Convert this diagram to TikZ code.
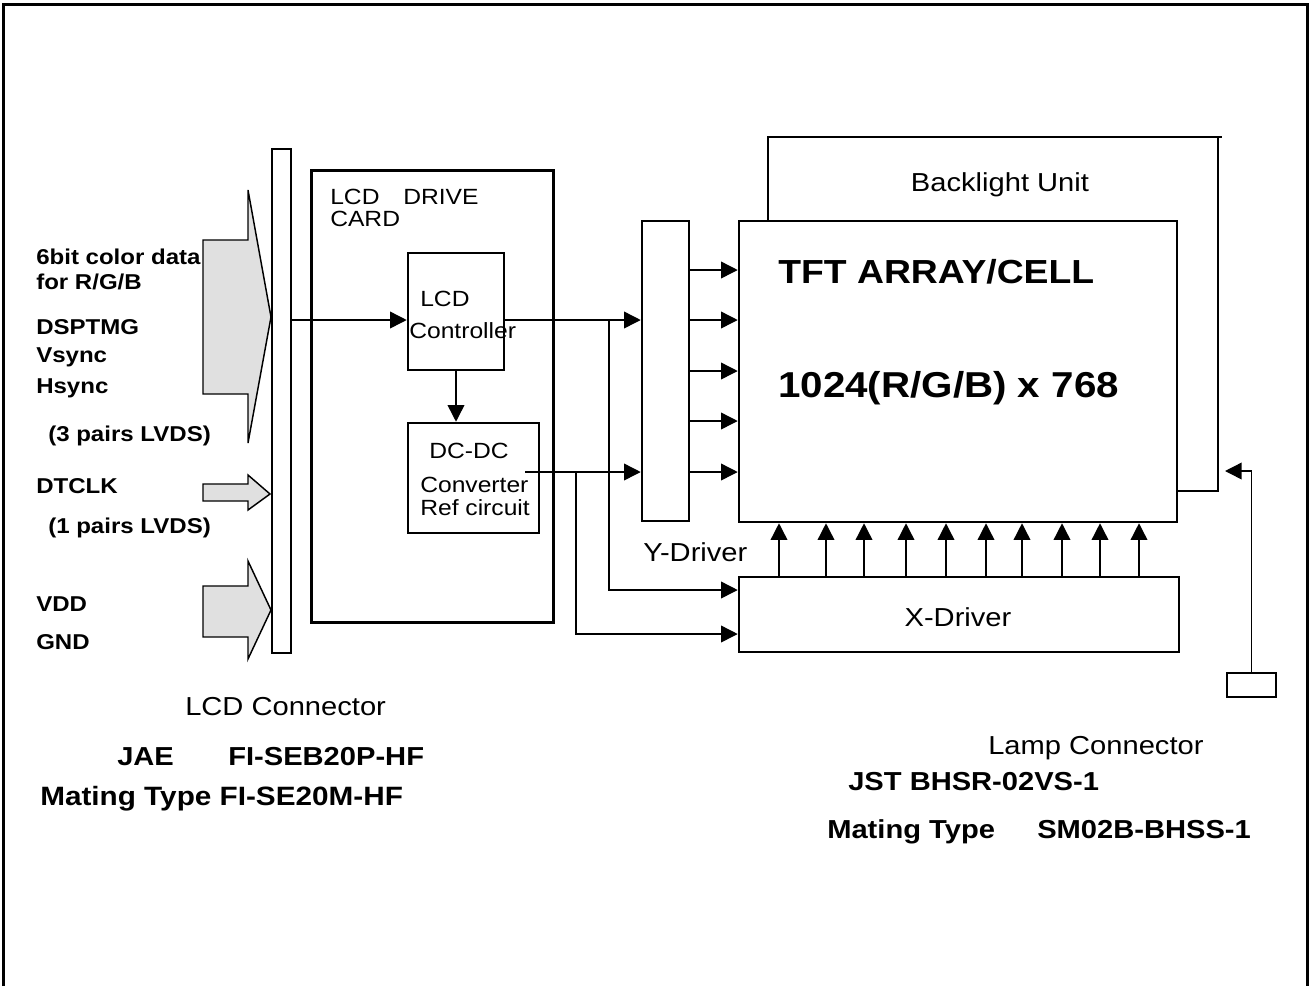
\documentclass[tikz,border=0pt]{standalone}
\usepackage{fontspec}
\setmainfont{Liberation Sans}[FakeStretch=1.12]
\usetikzlibrary{arrows.meta, positioning, fit}
\definecolor{arrowgray}{RGB}{224,224,224}
\tikzset{box/.style={draw,line width=1.9pt,inner sep=0pt},thinbox/.style={draw,line width=1.1pt,inner sep=0pt},line/.style={-{Triangle[length=12.5pt,width=12.5pt]},line width=1.1pt},wire/.style={line width=1.1pt},fatarrow/.style={draw,line width=1.1pt,fill=arrowgray,line join=miter},txt/.style={inner sep=0pt,anchor=west,text height=.72em,text depth=0pt},sig/.style={txt,font=\bfseries\fontsize{16.1}{20}\selectfont},small/.style={txt,font=\fontsize{16.5}{20}\selectfont},lab/.style={txt,font=\fontsize{19.5}{23}\selectfont},part/.style={txt,font=\bfseries\fontsize{19.5}{23}\selectfont}}

\begin{document}
\begin{tikzpicture}[x=0.75pt,y=-0.75pt]
\useasboundingbox (0,0) rectangle (1313,986);
\draw[line width=2.25pt] (3,986) -- (3,4) -- (1307,4) -- (1307,986);

% input arrows and connector
\draw[fatarrow] (203,240) -- (248,240) -- (248,190) -- (271,317) -- (248,443) -- (248,394) -- (203,394) -- cycle;
\draw[fatarrow] (203,484) -- (248,484) -- (248,475) -- (270,494) -- (248,510) -- (248,501) -- (203,501) -- cycle;
\draw[fatarrow] (203,586) -- (248,586) -- (248,561) -- (271,610) -- (248,659) -- (248,637) -- (203,637) -- cycle;
\node[thinbox,fit={(272,149) (291,653)}] (conn) {};

\node[sig] (rgb1) at (36,260) {6bit color data};
\node[sig] (rgb2) at (36,285) {for R/G/B};
\node[sig] (dsp) at (36,330) {DSPTMG};
\node[sig] (vs) at (36,358) {Vsync};
\node[sig] (hs) at (36,389) {Hsync};
\node[sig] (lv3) at (48,437) {(3 pairs LVDS)};
\node[sig] (clk) at (36,489) {DTCLK};
\node[sig] (lv1) at (48,529) {(1 pairs LVDS)};
\node[sig] (vdd) at (36,607) {VDD};
\node[sig] (gnd) at (36,645) {GND};

% drive card
\node[box,line width=2.25pt,fit={(311,170) (553,622)}] (card) {};
\node[small] (card1) at (330,200) {LCD};
\node[small] (card2) at (403,200) {DRIVE};
\node[small] (card3) at (330,222) {CARD};
\node[box,fit={(408,253) (504,370)}] (ctrl) {};
\node[small] (ctrl1) at (420,302) {LCD};
\node[small] (ctrl2) at (409,334) {Controller};
\node[box,fit={(408,423) (539,533)}] (dc) {};
\node[small] (dc1) at (429,454) {DC-DC};
\node[small] (dc2) at (420,488) {Converter};
\node[small] (dc3) at (420,511) {Ref circuit};

% panel
\node[box,fit={(642,221) (689,521)}] (ydrv) {};
\node[box,fit={(739,221) (1177,522)}] (tft) {};
\node[box,fit={(739,577) (1179,652)}] (xdrv) {};
\node[lab] (ylab) at (643,557) {Y-Driver};
\node[lab,anchor=center] (xlab) at (958,622) {X-Driver};
\node[part,font=\bfseries\fontsize{25}{30}\selectfont] (tft1) at (778,279) {TFT ARRAY/CELL};
\node[part,font=\bfseries\fontsize{27}{32}\selectfont] (tft2) at (778,393) {1024(R/G/B) x 768};
\node[lab,anchor=center] (bl) at (1000,187) {Backlight Unit};
\draw[wire] (768,221) -- (768,137) -- (1222,137);
\draw[wire] (1218,137) -- (1218,491) -- (tft.east |- 0,491);

% connections
\draw[line] (conn.east |- 0,320) -- (ctrl.west |- 0,320);
\draw[line] (ctrl.south) -- (ctrl.south |- dc.north);
\draw[line] (ctrl.east |- 0,320) -- (ydrv.west |- 0,320);
\draw[line] (525,472) -- (ydrv.west |- 0,472);
\draw[line] (609,320) |- (xdrv.west |- 0,590);
\draw[line] (576,472) |- (xdrv.west |- 0,634);
\foreach \y in {270,320,371,421,472}
  \draw[line] (ydrv.east |- 0,\y) -- (tft.west |- 0,\y);
\foreach \x in {779,826,864,906,946,986,1022,1062,1100,1139}
  \draw[line] (xdrv.north -| \x,0) -- (tft.south -| \x,0);

% lamp
\node[thinbox,fit={(1227,673) (1276,697)}] (lamp) {};
\draw[line] (lamp.north) |- (1225,471);

% connector notes
\node[lab] (lcdc) at (185,711) {LCD Connector};
\node[part] (jae) at (117,761) {JAE};
\node[part] (jaeno) at (228,761) {FI-SEB20P-HF};
\node[part,font=\bfseries\fontsize{19.9}{23}\selectfont] (mate1) at (40,801) {Mating Type FI-SE20M-HF};
\node[lab] (lampc) at (988,750) {Lamp Connector};
\node[part] (jst) at (848,786) {JST BHSR-02VS-1};
\node[part] (mate2) at (827,834) {Mating Type};
\node[part] (mate2no) at (1037,834) {SM02B-BHSS-1};
\end{tikzpicture}
\end{document}
